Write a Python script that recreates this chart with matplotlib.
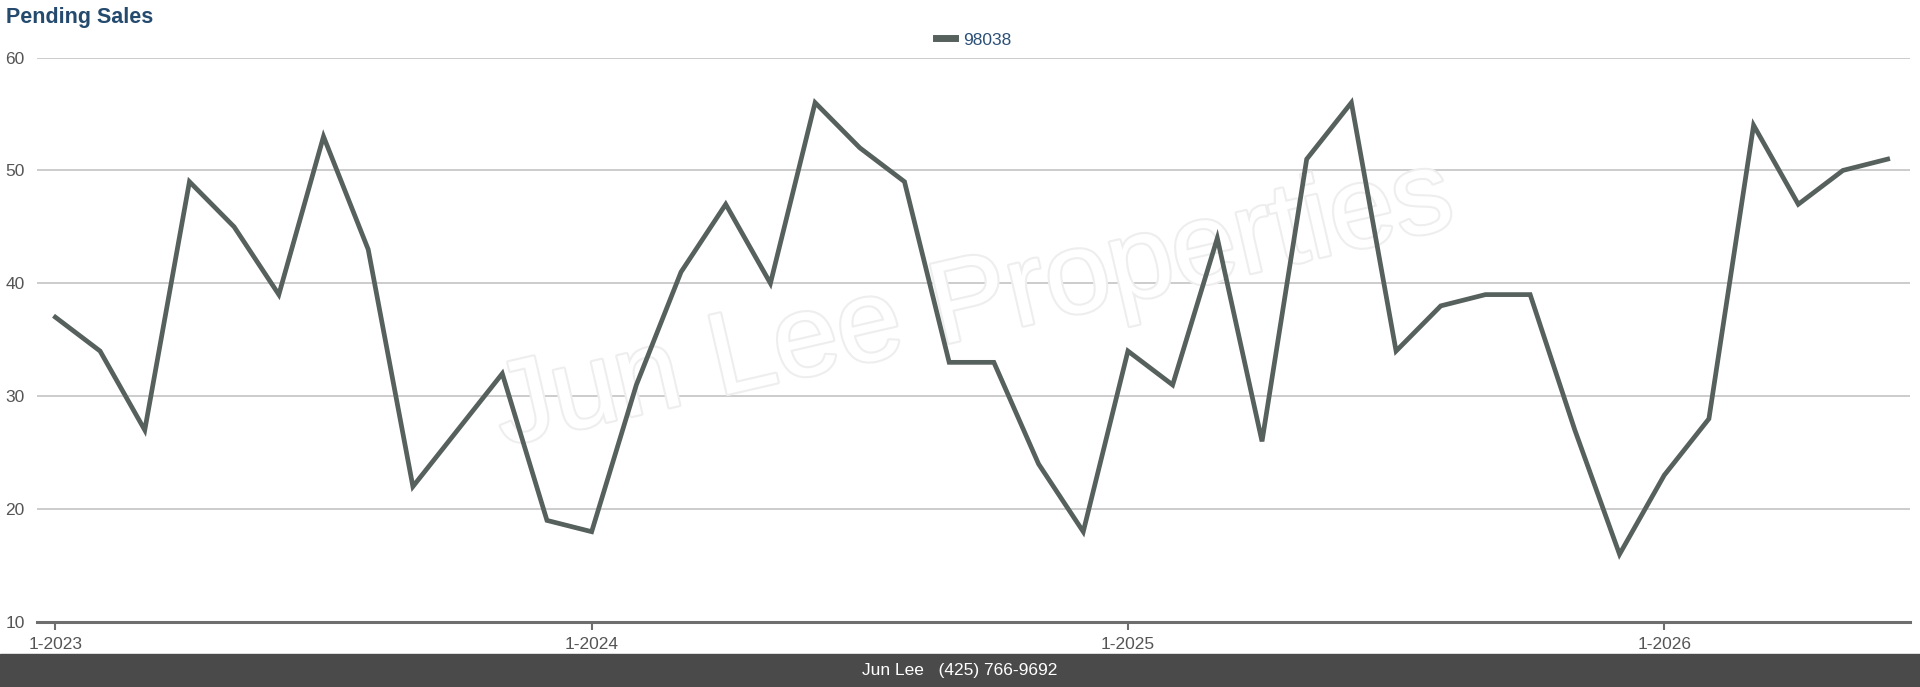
import matplotlib.pyplot as plt
import matplotlib.patheffects as pe

plt.rcParams['font.family'] = ['Liberation Sans', 'DejaVu Sans']

# monthly pending sales, 1-2023 .. 6-2026
months = list(range(42))
pending = [37, 34, 27, 49, 45, 39, 53, 43, 22, 27, 32, 19,
           18, 31, 41, 47, 40, 56, 52, 49, 33, 33, 24, 18,
           34, 31, 44, 26, 51, 56, 34, 38, 39, 39, 27, 16,
           23, 28, 54, 47, 50, 51]
tick_pos = [0, 12, 24, 36]
tick_labels = ['1-2023', '1-2024', '1-2025', '1-2026']
y_ticks = [10, 20, 30, 40, 50, 60]

fig = plt.figure(figsize=(19.2, 6.87), dpi=100)
ax = fig.add_axes([0.0193, 0.0946, 0.9755, 0.8217])

ax.plot(months, pending, color='#56605c', lw=3.4, label='98038',
        solid_joinstyle='miter', zorder=3)

ax.set_xlim(-0.41, 41.5)
ax.set_ylim(10, 60)
ax.set_yticks(y_ticks)
ax.set_xticks(tick_pos)
ax.set_xticklabels(tick_labels)
ax.grid(axis='y', color='#c4c4c4', lw=1.2)
ax.set_axisbelow(True)

for s in ['top', 'right', 'left']:
    ax.spines[s].set_visible(False)
ax.spines['bottom'].set_color('#6e6e6e')
ax.spines['bottom'].set_linewidth(2.2)
ax.tick_params(axis='y', length=0, pad=9, labelsize=12.5, labelcolor='#555555')
ax.tick_params(axis='x', length=6, width=1.5, color='#6e6e6e', pad=5,
               labelsize=12.5, labelcolor='#555555')

# watermark (outlined text)
ax.text(0.5, 0.56, 'Jun Lee Properties', transform=ax.transAxes,
        fontsize=84, rotation=13, ha='center', va='center',
        color='white', zorder=1,
        path_effects=[pe.withStroke(linewidth=3, foreground='#eeeeee')])

leg = ax.legend(loc='lower center', bbox_to_anchor=(0.5, 0.99), frameon=False,
                fontsize=12.5, handlelength=1.1, handletextpad=0.5)
for t in leg.get_texts():
    t.set_color('#2c5078')
for h in leg.get_lines():
    h.set_linewidth(5)

fig.text(0.003, 0.975, 'Pending Sales', fontsize=15.5, fontweight='bold',
         color='#244a6e', ha='left', va='center')

# footer bar
fig.patches.append(plt.Rectangle((0, 0), 1, 0.048, transform=fig.transFigure,
                                 color='#4a4a4a', zorder=0))
fig.text(0.5, 0.024, 'Jun Lee   (425) 766-9692', fontsize=12.5, color='white',
         ha='center', va='center')

fig.savefig('out.png', dpi=100)
